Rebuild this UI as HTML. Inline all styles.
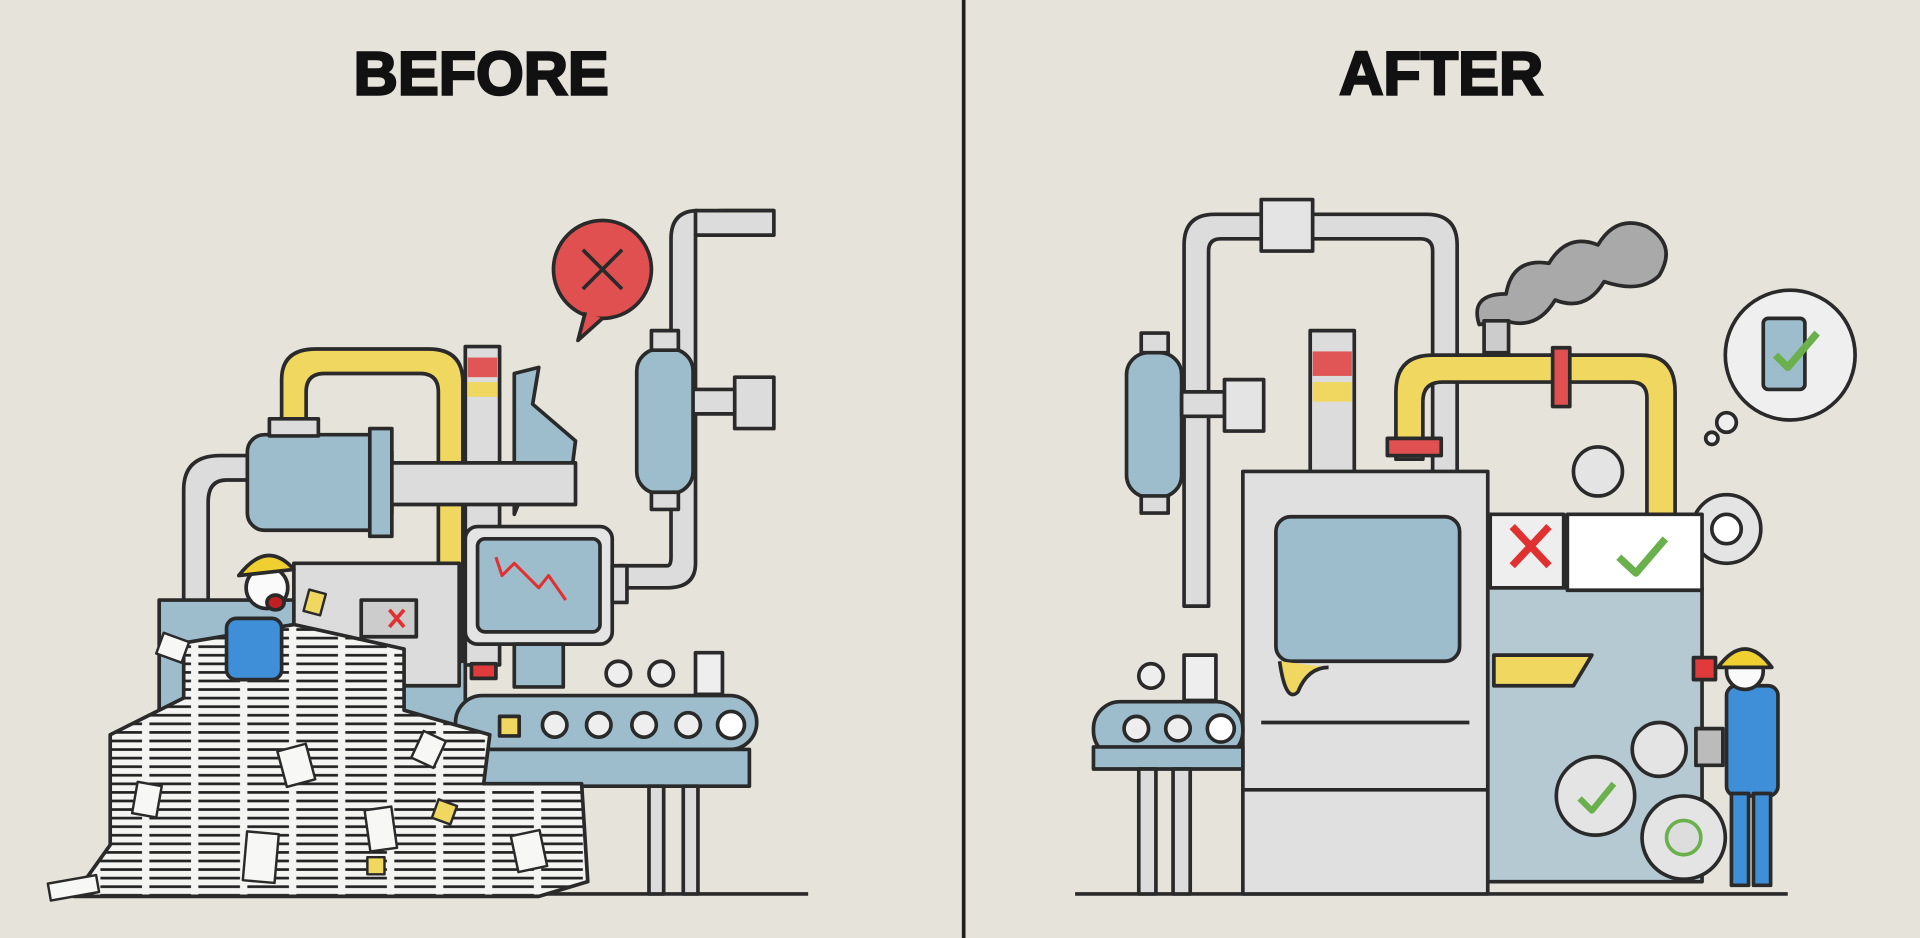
<!DOCTYPE html>
<html><head><meta charset="utf-8"><style>
html,body{margin:0;padding:0;background:#e6e3da;}
svg{display:block}
</style></head><body>
<svg width="1920" height="938" viewBox="0 0 1568 766" preserveAspectRatio="none" xmlns="http://www.w3.org/2000/svg">
<defs>
<pattern id="paper" width="40" height="7" patternUnits="userSpaceOnUse">
<rect width="40" height="7" fill="#f4f4f2"/><rect x="2" y="2" width="34" height="2.2" fill="#222"/>
</pattern>
</defs>
<rect width="1568" height="766" fill="#e6e3da"/>
<line x1="787" y1="0" x2="787" y2="766" stroke="#1e1e1e" stroke-width="3"/>
<text x="393" y="77" font-family="Liberation Sans, sans-serif" font-weight="bold" font-size="50" text-anchor="middle" fill="#111" stroke="#111" stroke-width="2">BEFORE</text>
<text x="1177" y="77" font-family="Liberation Sans, sans-serif" font-weight="bold" font-size="50" text-anchor="middle" fill="#111" stroke="#111" stroke-width="2">AFTER</text>

<g stroke="#2a2a2a" stroke-width="3" stroke-linejoin="round">
<line x1="40" y1="730" x2="660" y2="730"/>
<path d="M632 172 H590 Q568 172 568 195 V460 Q568 480 545 480 H505 V462 H545 Q548 462 548 455 V195 Q548 172 570 172" fill="#dcdcdc"/>
<rect x="568" y="172" width="64" height="20" fill="#dcdcdc"/>
<rect x="600" y="308" width="32" height="42" fill="#dcdcdc"/>
<rect x="565" y="318" width="35" height="20" fill="#dcdcdc"/>
<rect x="520" y="285" width="46" height="118" rx="18" fill="#9dbdcc"/>
<rect x="532" y="270" width="22" height="16" fill="#dcdcdc"/>
<rect x="532" y="402" width="22" height="14" fill="#dcdcdc"/>
<path d="M150 560 V400 Q150 372 180 372 H205 V392 H185 Q170 392 170 410 V560 Z" fill="#dcdcdc"/>
<rect x="130" y="490" width="250" height="240" fill="#9dbdcc"/>
<rect x="380" y="283" width="28" height="260" fill="#dcdcdc"/>
<rect x="382" y="292" width="24" height="16" fill="#e05555" stroke="none"/>
<rect x="382" y="312" width="24" height="12" fill="#f0d860" stroke="none"/>
<path d="M420 305 L440 300 L435 330 L470 360 L465 400 L430 395 L420 420Z" fill="#9dbdcc"/>
<path d="M230 350 V310 Q230 285 258 285 H350 Q378 285 378 312 V540 H358 V320 Q358 305 343 305 H265 Q250 305 250 320 V350 Z" fill="#f0d860"/>
<rect x="202" y="355" width="118" height="78" rx="14" fill="#9dbdcc"/>
<rect x="220" y="342" width="40" height="14" fill="#dcdcdc"/>
<rect x="302" y="350" width="18" height="88" fill="#9dbdcc"/>
<rect x="320" y="378" width="150" height="34" fill="#dcdcdc"/>
<rect x="240" y="460" width="135" height="100" fill="#dcdcdc"/>
<rect x="295" y="490" width="45" height="30" fill="#ccc"/>
<path d="M318 498 L330 512 M330 498 L318 512" stroke="#e03030"/>
<rect x="380" y="430" width="120" height="96" rx="10" fill="#e4e4e4"/>
<rect x="390" y="440" width="100" height="76" rx="6" fill="#9dbdcc"/>
<path d="M405 455 L410 470 L420 460 L440 480 L448 470 L462 490" fill="none" stroke="#e03030" stroke-width="2.5"/>
<rect x="500" y="462" width="12" height="30" fill="#dcdcdc"/>
<rect x="420" y="526" width="40" height="35" fill="#9dbdcc"/>
<rect x="372" y="568" width="246" height="44" rx="22" fill="#9dbdcc"/>
<rect x="372" y="612" width="240" height="30" fill="#9dbdcc"/>
<rect x="530" y="642" width="12" height="88" fill="#dcdcdc"/>
<rect x="558" y="642" width="12" height="88" fill="#dcdcdc"/>
<rect x="408" y="585" width="16" height="16" fill="#f0d860"/>
<circle cx="453" cy="592" r="10" fill="#eee"/><circle cx="489" cy="592" r="10" fill="#eee"/><circle cx="526" cy="592" r="10" fill="#eee"/><circle cx="562" cy="592" r="10" fill="#eee"/><circle cx="597" cy="592" r="11" fill="#fff"/>
<rect x="568" y="533" width="22" height="34" fill="#eee"/>
<circle cx="505" cy="550" r="10" fill="#eee"/><circle cx="540" cy="550" r="10" fill="#eee"/>
<rect x="385" y="542" width="20" height="12" fill="#e03a3a"/>
<circle cx="492" cy="220" r="40" fill="#e05050"/>
<path d="M478 255 L472 278 L492 260" fill="#e05050"/>
<path d="M476 204 L508 236 M508 204 L476 236" fill="none"/>
<path d="M100 595 L150 570 L150 525 L240 510 L330 530 L330 580 L400 600 L395 640 L475 640 L480 720 L440 732 L60 732 L90 690 L90 600Z" fill="url(#paper)"/>
<g fill="#f7f7f5" stroke-width="2">
<rect x="130" y="520" width="22" height="18" transform="rotate(20 141 529)"/>
<rect x="230" y="610" width="24" height="30" transform="rotate(-15 242 625)"/>
<rect x="110" y="640" width="20" height="26" transform="rotate(10 120 653)"/>
<rect x="300" y="660" width="22" height="34" transform="rotate(-8 311 677)"/>
<rect x="200" y="680" width="26" height="40" transform="rotate(5 213 700)"/>
<rect x="340" y="600" width="20" height="24" transform="rotate(25 350 612)"/>
<rect x="420" y="680" width="24" height="30" transform="rotate(-12 432 695)"/>
<rect x="40" y="718" width="40" height="14" transform="rotate(-10 60 725)"/>
<rect x="355" y="655" width="16" height="16" fill="#f0d860" transform="rotate(20 363 663)"/>
<rect x="300" y="700" width="14" height="14" fill="#f0d860"/>
<rect x="250" y="483" width="14" height="18" fill="#f0d860" transform="rotate(15 257 492)"/>
</g>
<rect x="185" y="505" width="45" height="50" rx="8" fill="#3f8fd8"/>
<circle cx="218" cy="480" r="17" fill="#fafafa"/>
<path d="M195 470 Q218 440 240 465 Z" fill="#f0d030"/>
<ellipse cx="225" cy="492" rx="7" ry="6" fill="#c02020"/>
<!-- RIGHT -->
<line x1="878" y1="730" x2="1460" y2="730"/>
<path d="M967 495 V200 Q967 175 992 175 H1165 Q1190 175 1190 200 V390 H1170 V205 Q1170 195 1160 195 H997 Q987 195 987 205 V495 Z" fill="#dcdcdc"/>
<rect x="1030" y="163" width="42" height="42" fill="#e4e4e4"/>
<rect x="920" y="288" width="45" height="118" rx="18" fill="#9dbdcc"/>
<rect x="932" y="272" width="22" height="16" fill="#dcdcdc"/>
<rect x="932" y="405" width="22" height="14" fill="#dcdcdc"/>
<rect x="965" y="320" width="35" height="20" fill="#dcdcdc"/>
<rect x="1000" y="310" width="32" height="42" fill="#e4e4e4"/>
<rect x="1070" y="270" width="36" height="120" fill="#dcdcdc"/>
<rect x="1072" y="287" width="32" height="20" fill="#e05555" stroke="none"/>
<rect x="1072" y="312" width="32" height="16" fill="#f0d860" stroke="none"/>
<path d="M1208 265 Q1200 240 1230 240 Q1235 210 1265 215 Q1280 190 1305 200 Q1320 175 1345 185 Q1370 200 1355 225 Q1340 240 1310 230 Q1295 255 1270 245 Q1255 270 1230 262 Z" fill="#a9a9a9"/>
<rect x="1212" y="262" width="20" height="26" fill="#ccc"/>
<path d="M1140 375 V320 Q1140 290 1170 290 H1340 Q1368 290 1368 320 V420 H1345 V325 Q1345 312 1332 312 H1178 Q1162 312 1162 328 V375 Z" fill="#f0d860"/>
<rect x="1133" y="358" width="44" height="14" fill="#e05050"/>
<rect x="1268" y="284" width="14" height="48" fill="#e05050"/>
<rect x="1215" y="480" width="175" height="240" fill="#b4c9d2"/>
<circle cx="1410" cy="432" r="28" fill="#e4e4e4"/><circle cx="1410" cy="432" r="12" fill="#fff"/>
<circle cx="1305" cy="385" r="20" fill="#e4e4e4"/>
<rect x="1280" y="420" width="110" height="62" fill="#fff"/>
<path d="M1322 455 L1336 468 L1360 440" fill="none" stroke="#6ab04c" stroke-width="6"/>
<rect x="1217" y="420" width="60" height="60" fill="#eee"/>
<path d="M1235 430 L1265 462 M1265 430 L1235 462" stroke="#e03030" stroke-width="6"/>
<path d="M1220 535 L1300 535 L1285 560 L1220 560Z" fill="#f0d860"/>
<circle cx="1303" cy="650" r="32" fill="#e4e4e4"/>
<path d="M1290 652 L1300 662 L1318 640" fill="none" stroke="#6ab04c" stroke-width="5"/>
<circle cx="1375" cy="684" r="34" fill="#e4e4e4"/><circle cx="1375" cy="684" r="14" fill="#ddd" stroke="#6ab04c"/>
<circle cx="1355" cy="612" r="22" fill="#e4e4e4"/>
<rect x="1383" y="537" width="18" height="18" fill="#e03a3a"/>
<rect x="1015" y="385" width="200" height="345" fill="#e0e0e0"/>
<rect x="1042" y="422" width="150" height="118" rx="12" fill="#9dbdcc"/>
<line x1="1030" y1="590" x2="1200" y2="590"/>
<line x1="1015" y1="645" x2="1215" y2="645"/>
<path d="M1045 540 Q1050 575 1060 565 Q1068 545 1085 545" fill="#f0d860"/>
<rect x="893" y="573" width="122" height="46" rx="22" fill="#9dbdcc"/>
<rect x="893" y="610" width="122" height="18" fill="#9dbdcc"/>
<rect x="930" y="628" width="14" height="102" fill="#dcdcdc"/>
<rect x="958" y="628" width="14" height="102" fill="#dcdcdc"/>
<circle cx="928" cy="595" r="10" fill="#eee"/><circle cx="962" cy="595" r="10" fill="#eee"/><circle cx="997" cy="595" r="11" fill="#fff"/>
<rect x="967" y="535" width="26" height="37" fill="#eee"/>
<circle cx="940" cy="552" r="10" fill="#eee"/>
<rect x="1410" y="560" width="42" height="90" rx="8" fill="#3f8fd8"/>
<rect x="1414" y="648" width="14" height="75" fill="#3f8fd8"/>
<rect x="1432" y="648" width="14" height="75" fill="#3f8fd8"/>
<circle cx="1425" cy="548" r="15" fill="#fafafa"/>
<path d="M1403 545 Q1425 515 1447 545 Z" fill="#f0d030"/>
<rect x="1385" y="595" width="22" height="30" fill="#bbb"/>
<circle cx="1462" cy="290" r="53" fill="#efefef"/>
<circle cx="1410" cy="345" r="8" fill="#efefef"/>
<circle cx="1398" cy="358" r="5" fill="#efefef"/>
<rect x="1440" y="260" width="34" height="58" rx="4" fill="#9dbdcc"/>
<path d="M1450 290 L1460 300 L1484 272" fill="none" stroke="#6ab04c" stroke-width="6"/>
</g>
</svg>
</body></html>
